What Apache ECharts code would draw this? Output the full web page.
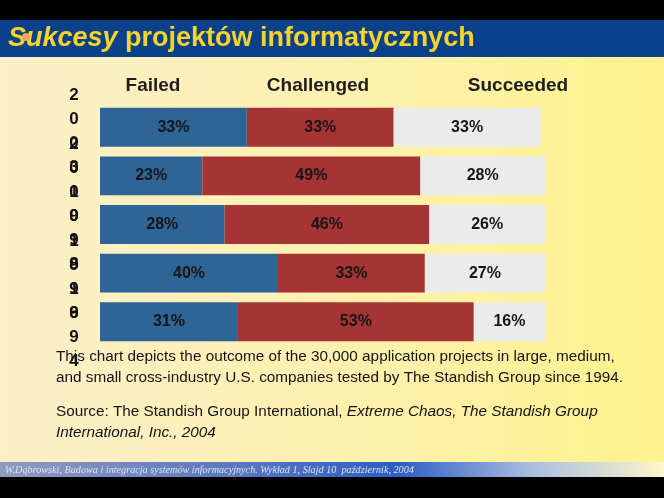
<!DOCTYPE html>
<html>
<head>
<meta charset="utf-8">
<script src="https://cdn.jsdelivr.net/npm/echarts@6/dist/echarts.min.js"></script>
<style>
html, body { margin: 0; padding: 0; background: #000; }
#main { width: 664px; height: 498px; }
</style>
</head>
<body>
<div id="main"></div>
<script>
// dane z wykresu (Standish Group)
var years = ['2003', '2000', '1998', '1996', '1994'];
var failed = [33, 23, 28, 40, 31];
var challenged = [33, 49, 46, 33, 53];
var succeeded = [33, 28, 26, 27, 16];
var seriesNames = ['Failed', 'Challenged', 'Succeeded'];

var font = '"Liberation Sans", Arial, sans-serif';
var myChart = echarts.init(document.getElementById('main'));

function makeSeries(name, values, color) {
    return {
        name: name,
        type: 'bar',
        stack: 'total',
        data: values,
        barCategoryGap: '20%',
        itemStyle: {color: color},
        label: {
            show: true,
            position: 'inside',
            formatter: '{c}%',
            color: '#161616',
            fontFamily: font,
            fontWeight: 'bold',
            fontSize: 16
        }
    };
}

var headerX = [153, 318, 518];
var headers = [];
for (var i = 0; i < seriesNames.length; i++) {
    headers.push({
        type: 'text', x: headerX[i], y: 86,
        style: {
            text: seriesNames[i], fill: '#1e1e1e', font: 'bold 19px ' + font,
            textAlign: 'center', textVerticalAlign: 'middle'
        }
    });
}

var option = {
    backgroundColor: '#000',
    animation: false,
    grid: {left: 100, right: 119, top: 103, height: 243},
    xAxis: {type: 'value', min: 0, max: 100, show: false},
    yAxis: {
        type: 'category',
        data: years,
        inverse: true,
        axisLine: {show: false},
        axisTick: {show: false},
        axisLabel: {
            interval: 0,
            hideOverlap: false,
            margin: 26,
            align: 'center',
            color: '#111',
            fontFamily: font,
            fontWeight: 'bold',
            fontSize: 17,
            lineHeight: 24,
            // pionowy napis, lekko przesuniety w dol
            formatter: function (v) { return '{s| }\n' + v.split('').join('\n'); },
            rich: {s: {fontSize: 1, lineHeight: 8}}
        }
    },
    graphic: [
        {type: 'rect', shape: {x: 0, y: 20, width: 664, height: 37}, style: {fill: '#0a418a'}},
        {type: 'rect', shape: {x: 0, y: 57, width: 664, height: 405},
         style: {fill: new echarts.graphic.LinearGradient(0, 0, 1, 0, [
             {offset: 0, color: '#fcefc9'},
             {offset: 0.5, color: '#fdf0b0'},
             {offset: 1, color: '#fff28e'}])}},
        {type: 'rect', shape: {x: 0, y: 462, width: 664, height: 15},
         style: {fill: new echarts.graphic.LinearGradient(0, 0, 1, 0, [
             {offset: 0, color: '#8f9cc0'},
             {offset: 0.35, color: '#5a78c0'},
             {offset: 0.6, color: '#2d5ec4'},
             {offset: 0.8, color: '#a9bde0'},
             {offset: 1, color: '#fdf6c8'}])}},
        {type: 'text', x: 8, y: 39,
         style: {
             text: '{i|Sukcesy} projektów informatycznych',
             fill: '#f4d32a', font: 'bold 27px ' + font, textVerticalAlign: 'middle',
             rich: {i: {fill: '#f4d32a', fontFamily: font, fontSize: 27, fontWeight: 'bold', fontStyle: 'italic'}}
         }},
        {type: 'circle', shape: {cx: 26, cy: 37, r: 4}, style: {fill: '#f2a35c'}},
        {type: 'text', x: 56, y: 357,
         style: {text: 'This chart depicts the outcome of the 30,000 application projects in large, medium,',
                 fill: '#141414', font: '15.3px ' + font, textVerticalAlign: 'middle'}},
        {type: 'text', x: 56, y: 378,
         style: {text: 'and small cross-industry U.S. companies tested by The Standish Group since 1994.',
                 fill: '#141414', font: '15.3px ' + font, textVerticalAlign: 'middle'}},
        {type: 'text', x: 56, y: 412,
         style: {text: 'Source: The Standish Group International, {i|Extreme Chaos, The Standish Group}',
                 fill: '#141414', font: '15.3px ' + font, textVerticalAlign: 'middle',
                 rich: {i: {fill: '#141414', fontFamily: font, fontSize: 15.3, fontStyle: 'italic'}}}},
        {type: 'text', x: 56, y: 433,
         style: {text: 'International, Inc., 2004',
                 fill: '#141414', font: 'italic 15.3px ' + font, textVerticalAlign: 'middle'}},
        {type: 'text', x: 5, y: 470,
         style: {text: 'W.Dąbrowski, Budowa i integracja systemów informacyjnych. Wykład 1, Slajd 10  październik, 2004',
                 fill: '#dfe3ee', font: 'italic 10.2px "Liberation Serif", serif', textVerticalAlign: 'middle'}}
    ].concat(headers),
    series: [
        makeSeries(seriesNames[0], failed, '#2f6496'),
        makeSeries(seriesNames[1], challenged, '#a63434'),
        makeSeries(seriesNames[2], succeeded, '#ebebeb')
    ]
};

myChart.setOption(option);
</script>
</body>
</html>
